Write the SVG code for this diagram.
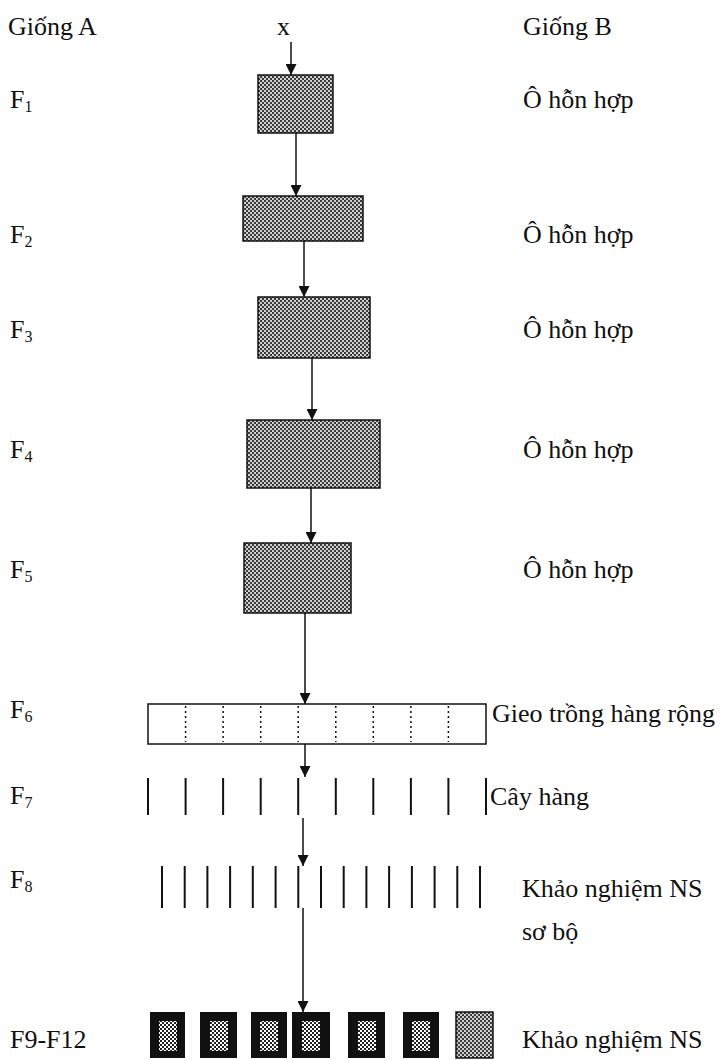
<svg xmlns="http://www.w3.org/2000/svg" width="726" height="1060" viewBox="0 0 726 1060">
<defs>
<style>
text{font-family:"Liberation Serif","Times New Roman",serif;font-size:26px;fill:#111}
.sub{font-size:16px}
.box{fill:url(#shade);stroke:#111;stroke-width:1.5}
.conn{stroke:#111;stroke-width:1.5;fill:none;marker-end:url(#ah)}
.row{stroke:#111;stroke-width:2}
.div{stroke:#111;stroke-width:1.5;stroke-dasharray:2 3}
.blk{fill:#111}
.inner{fill:url(#light)}
</style>
<pattern id="shade" width="4" height="4" patternUnits="userSpaceOnUse">
<rect width="4" height="4" fill="#d0d0d0"/>
<rect width="2" height="2" fill="#3a3a3a"/>
<rect x="2" y="2" width="2" height="2" fill="#3a3a3a"/>
</pattern>
<pattern id="light" width="4" height="4" patternUnits="userSpaceOnUse">
<rect width="4" height="4" fill="#fff"/>
<rect width="2" height="2" fill="#222"/>
<rect x="2" y="2" width="2" height="2" fill="#222"/>
</pattern>
<marker id="ah" viewBox="0 0 10 10" refX="10" refY="5" markerWidth="12" markerHeight="11" markerUnits="userSpaceOnUse" orient="auto">
<path d="M0,0 L10,5 L0,10 z" fill="#111"/>
</marker>
</defs>

<g id="labels">
<text x="8" y="35">Giống A</text>
<text x="277" y="35">x</text>
<text x="523" y="35">Giống B</text>
<text x="10" y="108">F<tspan class="sub" dy="4">1</tspan></text>
<text x="10" y="243">F<tspan class="sub" dy="4">2</tspan></text>
<text x="10" y="338">F<tspan class="sub" dy="4">3</tspan></text>
<text x="10" y="458">F<tspan class="sub" dy="4">4</tspan></text>
<text x="10" y="578">F<tspan class="sub" dy="4">5</tspan></text>
<text x="10" y="718">F<tspan class="sub" dy="4">6</tspan></text>
<text x="10" y="804">F<tspan class="sub" dy="4">7</tspan></text>
<text x="10" y="888">F<tspan class="sub" dy="4">8</tspan></text>
<text x="10" y="1048">F9-F12</text>
</g>

<g id="node-f1"><rect class="box" x="258" y="75" width="75" height="58"/><text x="523" y="108">Ô hỗn hợp</text></g>
<g id="node-f2"><rect class="box" x="243" y="196" width="120" height="45"/><text x="523" y="243">Ô hỗn hợp</text></g>
<g id="node-f3"><rect class="box" x="258" y="297" width="112" height="61"/><text x="523" y="338">Ô hỗn hợp</text></g>
<g id="node-f4"><rect class="box" x="247" y="420" width="133" height="68"/><text x="523" y="458">Ô hỗn hợp</text></g>
<g id="node-f5"><rect class="box" x="244" y="543" width="107" height="70"/><text x="523" y="578">Ô hỗn hợp</text></g>

<g id="node-f6">
<rect x="148" y="704" width="338" height="40" fill="#fff" stroke="#111" stroke-width="1.5"/>
<line class="div" x1="185.6" y1="706" x2="185.6" y2="742"/>
<line class="div" x1="223.1" y1="706" x2="223.1" y2="742"/>
<line class="div" x1="260.7" y1="706" x2="260.7" y2="742"/>
<line class="div" x1="298.2" y1="706" x2="298.2" y2="742"/>
<line class="div" x1="335.8" y1="706" x2="335.8" y2="742"/>
<line class="div" x1="373.3" y1="706" x2="373.3" y2="742"/>
<line class="div" x1="410.9" y1="706" x2="410.9" y2="742"/>
<line class="div" x1="448.4" y1="706" x2="448.4" y2="742"/>
<text x="492" y="722">Gieo trồng hàng rộng</text>
</g>

<g id="node-f7">
<line class="row" x1="148" y1="778" x2="148" y2="815"/>
<line class="row" x1="185.6" y1="778" x2="185.6" y2="815"/>
<line class="row" x1="223.1" y1="778" x2="223.1" y2="815"/>
<line class="row" x1="260.7" y1="778" x2="260.7" y2="815"/>
<line class="row" x1="298.2" y1="778" x2="298.2" y2="815"/>
<line class="row" x1="335.8" y1="778" x2="335.8" y2="815"/>
<line class="row" x1="373.3" y1="778" x2="373.3" y2="815"/>
<line class="row" x1="410.9" y1="778" x2="410.9" y2="815"/>
<line class="row" x1="448.4" y1="778" x2="448.4" y2="815"/>
<line class="row" x1="486" y1="778" x2="486" y2="815"/>
<text x="490" y="805">Cây hàng</text>
</g>

<g id="node-f8">
<line class="row" x1="162" y1="866" x2="162" y2="908"/>
<line class="row" x1="184.7" y1="866" x2="184.7" y2="908"/>
<line class="row" x1="207.4" y1="866" x2="207.4" y2="908"/>
<line class="row" x1="230.1" y1="866" x2="230.1" y2="908"/>
<line class="row" x1="252.8" y1="866" x2="252.8" y2="908"/>
<line class="row" x1="275.6" y1="866" x2="275.6" y2="908"/>
<line class="row" x1="298.3" y1="866" x2="298.3" y2="908"/>
<line class="row" x1="321" y1="866" x2="321" y2="908"/>
<line class="row" x1="343.7" y1="866" x2="343.7" y2="908"/>
<line class="row" x1="366.4" y1="866" x2="366.4" y2="908"/>
<line class="row" x1="389.1" y1="866" x2="389.1" y2="908"/>
<line class="row" x1="411.9" y1="866" x2="411.9" y2="908"/>
<line class="row" x1="434.6" y1="866" x2="434.6" y2="908"/>
<line class="row" x1="457.3" y1="866" x2="457.3" y2="908"/>
<line class="row" x1="480" y1="866" x2="480" y2="908"/>
<text x="522" y="897">Khảo nghiệm NS</text>
<text x="522" y="940">sơ bộ</text>
</g>

<g id="node-f9">
<rect class="blk" x="150" y="1012" width="35" height="46"/><rect class="inner" x="159" y="1021" width="18" height="30"/>
<rect class="blk" x="200" y="1012" width="37" height="46"/><rect class="inner" x="210" y="1021" width="18" height="30"/>
<rect class="blk" x="251" y="1012" width="36" height="46"/><rect class="inner" x="260" y="1021" width="18" height="30"/>
<rect class="blk" x="292" y="1012" width="38" height="46"/><rect class="inner" x="302" y="1021" width="18" height="30"/>
<rect class="blk" x="348" y="1012" width="37" height="46"/><rect class="inner" x="358" y="1021" width="18" height="30"/>
<rect class="blk" x="403" y="1012" width="36" height="46"/><rect class="inner" x="412" y="1021" width="18" height="30"/>
<rect class="box" x="456" y="1012" width="37" height="46"/>
<text x="522" y="1048">Khảo nghiệm NS</text>
</g>

<g id="connectors">
<line class="conn" x1="291" y1="42" x2="291" y2="75"/>
<line class="conn" x1="296" y1="133" x2="296" y2="196"/>
<line class="conn" x1="304" y1="241" x2="304" y2="297"/>
<line class="conn" x1="312" y1="358" x2="312" y2="420"/>
<line class="conn" x1="311" y1="488" x2="311" y2="543"/>
<line class="conn" x1="305" y1="613" x2="305" y2="704"/>
<line class="conn" x1="305" y1="744" x2="305" y2="777"/>
<line class="conn" x1="303" y1="818" x2="303" y2="866"/>
<line class="conn" x1="303" y1="908" x2="303" y2="1012"/>
</g>
</svg>
